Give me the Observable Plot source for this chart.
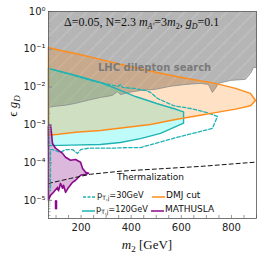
<!DOCTYPE html>
<html><head><meta charset="utf-8">
<script src="https://cdn.jsdelivr.net/npm/d3@7"></script>
<script src="https://cdn.jsdelivr.net/npm/@observablehq/plot@0.6"></script>
<style>body{margin:0;background:#fff} svg{display:block}</style>
</head><body><div id="chart"></div>
<script>
// ---- data (m2 [GeV], epsilon g_D) ----
const xTicks = [200, 400, 600, 800];
const xMinorTicks = d3.range(100, 901, 50);
const yTicks = [1, 1e-1, 1e-2, 1e-3, 1e-4, 1e-5];
const yMinorTicks = [1e-5, 1e-4, 1e-3, 1e-2, 1e-1].flatMap(p => d3.range(1, 10).map(k => k * p)).concat([4e-6,5e-6,6e-6,7e-6,8e-6,9e-6]);

const lhcBoundary = [[70,2.9e-3],[98,3.1e-3],[138,3.3e-3],[178,3.7e-3],[230,4.5e-3],[277,5.3e-3],[325,6.0e-3],[345,7.6e-3],[357,6.3e-3],[389,7.2e-3],[437,8.1e-3],[497,8.7e-3],[557,1.05e-2],[617,1.17e-2],[676,1.25e-2],[708,1.17e-2],[724,7.2e-3],[736,9.2e-3],[748,1.25e-2],[796,1.5e-2],[856,1.6e-2],[876,2.3e-2],[888,3.3e-2],[900,3.3e-2]];
const dmjCut = [[70,0.112],[118,0.093],[178,0.077],[277,0.054],[377,0.037],[497,0.0245],[617,0.017],[736,0.0125],[816,0.0092],[876,0.0068],[896,0.0044],[876,0.0032],[816,0.0026],[736,0.0021],[676,0.00178],[577,0.00139],[477,0.00102],[377,0.00085],[277,0.00071],[178,0.00063],[110,0.00056],[70,0.00053]];
const pt120 = [[70,0.031],[138,0.024],[194,0.019],[277,0.0132],[329,0.0097],[377,0.0072],[417,0.0056],[457,0.0046],[505,0.0036],[569,0.0027],[609,0.0022],[609,0.0011],[517,0.00059],[437,0.00043],[357,0.00034],[277,0.00030],[158,0.00029],[70,0.00028]];
const pt30 = [[70,0.031],[158,0.0215],[238,0.0149],[277,0.0132],[329,0.011],[349,0.0104],[357,0.0117],[365,0.0098],[409,0.0092],[457,0.0081],[477,0.0072],[505,0.005],[569,0.0032],[637,0.0027],[704,0.0021],[744,0.00166],[724,0.0008],[569,0.00044],[437,0.00025],[389,0.00025],[325,0.00024],[230,0.00024],[198,0.00022],[186,0.000175],[166,0.00022],[138,0.00022],[118,0.000186],[86,0.00022],[78,0.00022],[78,1.8e-5]];
const mathusla = [[70,9.1e-4],[74,1.02e-3],[78,9.6e-4],[82,5.9e-4],[86,3.2e-4],[98,2.4e-4],[126,1.75e-4],[138,1.38e-4],[158,1.15e-4],[178,1.21e-4],[198,1.02e-4],[206,7.0e-5],[218,5.5e-5],[230,5.2e-5],[218,4.9e-5],[198,4.6e-5],[178,3.4e-5],[166,3.0e-5],[150,2.2e-5],[138,1.63e-5],[130,2.5e-5],[126,2.1e-5],[118,2.8e-5],[110,1.8e-5],[106,2.2e-5],[90,1.63e-5],[78,1.35e-5],[70,1.0e-5]];
const mathuslaIsland = [[100,9.4e-6],[100,6.2e-6]];
const thermalization = [[70,2.8e-5],[158,3.8e-5],[238,4.9e-5],[357,5.9e-5],[477,6.6e-5],[676,7.9e-5],[900,1.03e-4]];

const lhcPoly = [[70,1], ...lhcBoundary, [900,1]];
const closed = a => [...a, a[0]];

const sup = {"-":"⁻","0":"⁰","1":"¹","2":"²","3":"³","4":"⁴","5":"⁵","6":"⁶"};
const fmtY = d => "10" + String(Math.round(Math.log10(d))).split("").map(c => sup[c]).join("");
const noLabel = () => "";

const X = d => d[0], Y = d => d[1];
const ORANGE = "#ff8c1a", TEAL = "#1fb3b3", PURPLE = "#8b0a8b";

const chart = Plot.plot({
  width: 266, height: 259,
  marginLeft: 48, marginRight: 10, marginTop: 11, marginBottom: 41,
  x: {domain: [70, 900]},
  y: {type: "log", domain: [3.3e-6, 1]},
  style: {fontFamily: "DejaVu Sans", fontSize: "10px", background: "white", color: "#222"},
  marks: [
    Plot.line(lhcPoly, {x: X, y: Y, fill: "#999", fillOpacity: 0.72, stroke: "none"}),
    Plot.line(lhcPoly, {x: X, y: Y, fill: "url(#hatch)", stroke: "none"}),
    Plot.line(closed(pt120), {x: X, y: Y, fill: "#00f0e8", fillOpacity: 0.25, stroke: "none"}),
    Plot.line(closed(dmjCut), {x: X, y: Y, fill: ORANGE, fillOpacity: 0.25, stroke: "none"}),
    Plot.line(closed(mathusla), {x: X, y: Y, fill: "#800080", fillOpacity: 0.28, stroke: "none"}),
    Plot.line(lhcBoundary, {x: X, y: Y, stroke: "#8a8a8a", strokeWidth: 0.8}),
    Plot.line(pt30, {x: X, y: Y, stroke: TEAL, strokeWidth: 1.3, strokeDasharray: "3.5,2"}),
    Plot.line(closed(pt120), {x: X, y: Y, stroke: TEAL, strokeWidth: 1.4}),
    Plot.line(closed(dmjCut), {x: X, y: Y, stroke: ORANGE, strokeWidth: 1.5}),
    Plot.line(closed(mathusla), {x: X, y: Y, stroke: PURPLE, strokeWidth: 1.6}),
    Plot.line(mathuslaIsland, {x: X, y: Y, stroke: PURPLE, strokeWidth: 2.5, strokeLinecap: "round"}),
    Plot.line(thermalization, {x: X, y: Y, stroke: "#111", strokeWidth: 1, strokeDasharray: "4,3"}),
    Plot.axisX({ticks: xTicks, tickSize: 0, tickPadding: 5, fontSize: 10, label: null}),
    Plot.axisX({ticks: xMinorTicks, tickSize: -3, tickFormat: noLabel, label: null, stroke: "#999"}),
    Plot.axisY({ticks: yTicks, tickSize: 0, tickPadding: 3, tickFormat: fmtY, fontSize: 10, label: null}),
    Plot.axisY({ticks: yMinorTicks, tickSize: -2.5, tickFormat: noLabel, label: null, stroke: "#aaa"}),
    Plot.axisY({ticks: yTicks, tickSize: -4, tickFormat: noLabel, label: null, stroke: "#888"}),
    Plot.frame({stroke: "#555", strokeWidth: 0.8})
  ]
});

const svg = d3.select(chart);
const defs = svg.insert("defs", ":first-child");
const pat = defs.append("pattern").attr("id", "hatch").attr("patternUnits", "userSpaceOnUse")
  .attr("width", 14).attr("height", 14);
pat.append("path").attr("d", "M0,14 L14,0 M-3,3 L3,-3 M11,17 L17,11").attr("stroke", "#d4d4d4").attr("stroke-width", 0.7).attr("fill", "none");
pat.append("path").attr("d", "M0,0 L14,0 M0,0 L0,14").attr("stroke", "#c4c4c4").attr("stroke-width", 0.4).attr("fill", "none");

const serif = "Liberation Serif, DejaVu Serif, serif";
const ann = svg.append("g").attr("text-anchor", "start");
// title annotation
const t = ann.append("text").attr("x", 64).attr("y", 26).attr("font-family", serif).attr("font-size", 12).attr("fill", "#111");
t.append("tspan").text("Δ=0.05, N=2.3 ");
t.append("tspan").attr("font-style", "italic").text("m");
t.append("tspan").attr("font-style", "italic").attr("font-size", 8).attr("dy", 2.5).text("A′");
t.append("tspan").attr("dy", -2.5).text("=3");
t.append("tspan").attr("font-style", "italic").text("m");
t.append("tspan").attr("font-size", 8).attr("dy", 2.5).text("2");
t.append("tspan").attr("dy", -2.5).text(", ");
t.append("tspan").attr("font-style", "italic").text("g");
t.append("tspan").attr("font-style", "italic").attr("font-size", 8).attr("dy", 2.5).text("D");
t.append("tspan").attr("dy", -2.5).text("=0.1");

ann.append("text").attr("x", 98).attr("y", 71).attr("font-family", "DejaVu Sans").attr("font-weight", "bold")
  .attr("font-size", 10).attr("fill", "#7a7a7a").text("LHC dilepton search");
ann.append("text").attr("x", 117).attr("y", 180).attr("font-family", "DejaVu Sans")
  .attr("font-size", 9).attr("fill", "#111").text("Thermalization");

// legend
const leg = ann.append("g").attr("font-family", "DejaVu Sans").attr("fill", "#111");
function entry(x, y, stroke, dash, parts, fs) {
  leg.append("line").attr("x1", x).attr("x2", x + 13).attr("y1", y).attr("y2", y)
    .attr("stroke", stroke).attr("stroke-width", 1.5).attr("stroke-dasharray", dash);
  const tx = leg.append("text").attr("x", x + 14).attr("y", y + 3.2).attr("font-size", fs);
  parts.forEach(([s, sub]) => {
    if (sub) tx.append("tspan").attr("font-size", fs * 0.72).attr("dy", 2).text(s);
    else tx.append("tspan").attr("dy", tx.selectAll("tspan").size() ? -2 : 0).text(s);
  });
}
entry(83, 197, TEAL, "3,1.5", [["p"], ["T,j", true], ["=30GeV"]], 8.2);
entry(82, 211, TEAL, null, [["p"], ["T,j", true], ["=120GeV"]], 8.2);
entry(152, 197, ORANGE, null, [["DMJ cut"]], 9);
entry(151, 211, PURPLE, null, [["MATHUSLA"]], 9);

// axis labels
const xl = svg.append("text").attr("x", 147).attr("y", 249).attr("text-anchor", "middle")
  .attr("font-family", serif).attr("font-size", 13).attr("fill", "#111");
xl.append("tspan").attr("font-style", "italic").text("m");
xl.append("tspan").attr("font-size", 9).attr("dy", 3).text("2");
xl.append("tspan").attr("dy", -3).text(" [GeV]");

const yl = svg.append("text").attr("transform", "translate(17,106) rotate(-90)").attr("text-anchor", "middle")
  .attr("font-family", serif).attr("font-size", 13).attr("fill", "#111");
yl.append("tspan").text("ϵ ");
yl.append("tspan").attr("font-style", "italic").text("g");
yl.append("tspan").attr("font-style", "italic").attr("font-size", 9).attr("dy", 3).text("D");

document.getElementById("chart").appendChild(chart);
</script>
</body></html>
